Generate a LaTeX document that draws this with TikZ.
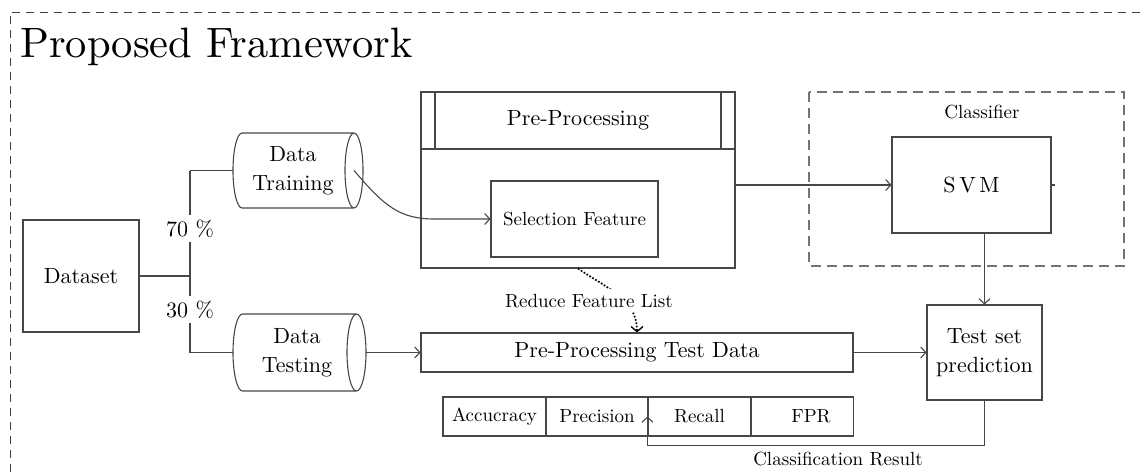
\documentclass[tikz,border=0pt]{standalone}
\usepackage{fontspec}
\setmainfont{lmroman10-regular.otf}
\usetikzlibrary{arrows.meta,calc}
\newcommand\nf{\fontsize{22}{29.5}\selectfont}
\newcommand\smallf{\fontsize{19}{23}\selectfont}
\begin{document}
\begin{tikzpicture}[x=1pt,y=-1pt,
  ln/.style={draw=black!72, line width=1.1pt},
  arr/.style={ln, -{Straight Barb[length=5pt,width=11pt]}},
  dotarr/.style={draw=black, line width=1.7pt, dash pattern=on 1.7pt off 1.7pt,
     -{Straight Barb[length=5pt,width=12pt,line width=1.4pt]}},
  box/.style={ln, rectangle, inner sep=0pt, font=\nf},
  cell/.style={box, font=\smallf, minimum width=103pt, minimum height=39pt},
  framel/.style={draw=black!75, line width=1pt, dash pattern=on 8pt off 6pt},
  dashbox/.style={draw=black!55, line width=1.3pt, dash pattern=on 10pt off 6pt},
  lab/.style={fill=white, inner sep=5pt, font=\nf}]
\useasboundingbox (0,0) rectangle (1145,472);

% outer frame and title
\draw[framel] (10,472) -- (10,12) -- (1145,12);
\node[anchor=base west, inner sep=0pt, font=\fontsize{42.5}{50}\selectfont] (title) at (20,57) {Proposed Framework};

% dataset and split
\node[box, minimum width=116pt, minimum height=112pt] (ds) at (81,276) {Dataset};
\coordinate (split) at (190,276);
\coordinate (splitT) at (190,170.5);
\coordinate (splitB) at (190,352.5);
\coordinate (dtrW) at (233,170.5);
\coordinate (dtrC) at (354,170.5);
\coordinate (dteW) at (233,352.5);
\coordinate (dteE) at (366,352.5);
\draw[ln] (ds.east) -- (split);
\draw[ln] (splitT) -- (splitB);
\draw[ln] (splitT) -- (dtrW);
\draw[ln] (splitB) -- (dteW);
\node[lab] (p70) at (190,228.5) {70 \%};
\node[lab] (p30) at (190,309.5) {30 \%};

% cylinders
\draw[ln] (242,133) -- (354,133) (242,208) -- (354,208)
  (354,170.5) ellipse[x radius=9, y radius=37.5]
  (242,133) arc[start angle=270, end angle=90, x radius=9, y radius=37.5];
\node[font=\nf, align=center, inner sep=0pt] (dtr) at (293,170.5) {Data\\Training};
\draw[ln] (242.5,314) -- (356.5,314) (242.5,391) -- (356.5,391)
  (356.5,352.5) ellipse[x radius=9.5, y radius=38.5]
  (242.5,314) arc[start angle=270, end angle=90, x radius=9.5, y radius=38.5];
\node[font=\nf, align=center, inner sep=0pt] (dte) at (297,352.5) {Data\\Testing};

% pre-processing block
\node[box, minimum width=314pt, minimum height=176pt] (pp) at (578,180) {};
\draw[ln] (421,149) -- (735,149) (435,92) -- (435,149) (721,92) -- (721,149);
\node[font=\nf, inner sep=0pt] (pph) at (578,120.5) {Pre-Processing};
\node[box, font=\smallf, minimum width=167pt, minimum height=76pt] (sf) at (574.5,219) {Selection Feature};
\draw[arr] (dtrC) .. controls (385,207) and (400,219) .. (435,219) -- (sf.west);

% classifier
\draw[dashbox] (809,92) rectangle (1124,266);
\node[font=\smallf, anchor=base, inner sep=0pt] (clf) at (982,118) {Classifier};
\node[box, minimum width=159pt, minimum height=96pt] (svm) at (971.5,185) {S\,V\,M};
\draw[arr] (pp.east |- svm.west) -- (svm.west);
\draw[ln] (svm.east) -- ++(3,0);

% test set prediction
\node[box, align=center, minimum width=115pt, minimum height=95pt] (ts) at (984.5,352.5) {Test set\\prediction};
\draw[arr] (svm.south -| ts.north) -- (ts.north);

% test data pre-processing
\node[box, minimum width=432pt, minimum height=39pt] (pptd) at (637,352.5) {Pre-Processing Test Data};
\draw[arr] (dteE) -- (pptd.west);
\draw[arr] (pptd.east) -- (ts.west);

% reduce feature list
\draw[dotarr] (pp.south) .. controls (610,290) and (637,300) .. (pptd.north);
\node[fill=white, inner xsep=2pt, inner ysep=5pt, anchor=base, font=\smallf] (rfl) at (589,307) {Reduce Feature List};

% metrics table
\node[cell] (acc) at (494.5,416.5) {Accucracy};
\node[cell] (prec) at (597,416.5) {Precision};
\node[cell] (rec) at (699.5,416.5) {Recall};
\node[cell] (fpr) at (802,416.5) {\hspace*{18pt}FPR};
\coordinate (lowY) at (0,445.5);
\draw[arr] (ts.south) |- (rec.west |- lowY) -- (rec.west);
\node[font=\smallf, anchor=base, inner sep=0pt] (cr) at (838,465) {Classification Result};
\end{tikzpicture}
\end{document}
